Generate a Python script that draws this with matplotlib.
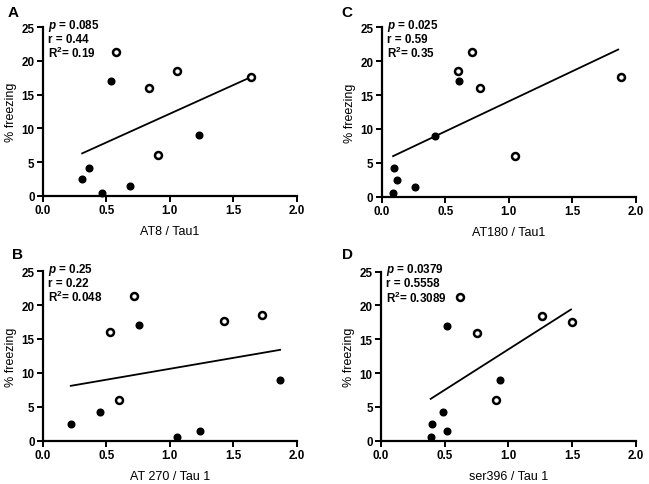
import matplotlib
matplotlib.use('Agg')
import matplotlib.pyplot as plt

plt.rcParams['font.family'] = ['Liberation Sans', 'DejaVu Sans']
plt.rcParams['mathtext.fontset'] = 'custom'
plt.rcParams['mathtext.rm'] = 'Liberation Sans:bold'
plt.rcParams['mathtext.it'] = 'Liberation Sans:italic:bold'
plt.rcParams['mathtext.bf'] = 'Liberation Sans:bold'

# panel A: AT8 / Tau1
a_filled_x = [0.31, 0.36, 0.47, 0.54, 0.69, 1.23]
a_filled_y = [2.5, 4.2, 0.5, 17.0, 1.5, 9.0]
a_open_x = [0.58, 0.84, 1.06, 0.91, 1.64]
a_open_y = [21.3, 16.0, 18.5, 6.0, 17.6]
a_fit_x = [0.31, 1.64]
a_fit_y = [6.3, 17.6]

# panel C: AT180 / Tau1
c_filled_x = [0.10, 0.12, 0.09, 0.26, 0.42, 0.61]
c_filled_y = [4.2, 2.5, 0.5, 1.5, 9.0, 17.0]
c_open_x = [0.71, 0.60, 0.77, 1.05, 1.88]
c_open_y = [21.3, 18.5, 16.0, 6.0, 17.6]
c_fit_x = [0.09, 1.86]
c_fit_y = [6.0, 21.7]

# panel B: AT 270 / Tau 1
b_filled_x = [0.22, 0.45, 0.76, 1.06, 1.24, 1.87]
b_filled_y = [2.5, 4.2, 17.0, 0.5, 1.5, 9.0]
b_open_x = [0.72, 0.53, 0.60, 1.43, 1.73]
b_open_y = [21.3, 16.0, 6.0, 17.6, 18.5]
b_fit_x = [0.22, 1.87]
b_fit_y = [8.1, 13.4]

# panel D: ser396 / Tau 1
d_filled_x = [0.39, 0.40, 0.49, 0.52, 0.52, 0.93]
d_filled_y = [0.5, 2.5, 4.2, 17.0, 1.5, 9.0]
d_open_x = [0.62, 0.75, 0.90, 1.26, 1.50]
d_open_y = [21.3, 16.0, 6.0, 18.5, 17.6]
d_fit_x = [0.39, 1.49]
d_fit_y = [6.2, 19.4]

# letter, x label, stats text, data..., axes rect, letter position (figure px)
panels = [
    ('A', 'AT8 / Tau1', ['$p$ = 0.085', 'r = 0.44', 'R$^2$= 0.19'],
     a_filled_x, a_filled_y, a_open_x, a_open_y, a_fit_x, a_fit_y,
     [0.066, 0.594, 0.391, 0.348], (8, 13)),
    ('C', 'AT180 / Tau1', ['$p$ = 0.025', 'r = 0.59', 'R$^2$= 0.35'],
     c_filled_x, c_filled_y, c_open_x, c_open_y, c_fit_x, c_fit_y,
     [0.588, 0.592, 0.392, 0.350], (341, 13)),
    ('B', 'AT 270 / Tau 1', ['$p$ = 0.25', 'r = 0.22', 'R$^2$= 0.048'],
     b_filled_x, b_filled_y, b_open_x, b_open_y, b_fit_x, b_fit_y,
     [0.066, 0.089, 0.391, 0.350], (12, 255)),
    ('D', 'ser396 / Tau 1', ['$p$ = 0.0379', 'r = 0.5558', 'R$^2$= 0.3089'],
     d_filled_x, d_filled_y, d_open_x, d_open_y, d_fit_x, d_fit_y,
     [0.587, 0.089, 0.393, 0.349], (342, 255)),
]

W, H = 649, 485
fig = plt.figure(figsize=(W / 100, H / 100), dpi=100)

for letter, xlabel, stats, fx, fy, ox, oy, lx, ly, rect, lpos in panels:
    ax = fig.add_axes(rect)
    ax.plot(lx, ly, color='black', linewidth=1.3, zorder=2)
    ax.plot(fx, fy, 'o', color='black', markersize=4.8, zorder=3, clip_on=False)
    ax.plot(ox, oy, 'o', markerfacecolor='white', markeredgecolor='black',
            markeredgewidth=1.8, markersize=5.0, zorder=3, clip_on=False)

    ax.set_xlim(0, 2.0)
    ax.set_ylim(0, 25)
    ax.set_xticks([0.0, 0.5, 1.0, 1.5, 2.0])
    ax.set_xticklabels(['0.0', '0.5', '1.0', '1.5', '2.0'])
    ax.set_yticks([0, 5, 10, 15, 20, 25])
    for side in ['top', 'right']:
        ax.spines[side].set_visible(False)
    for side in ['left', 'bottom']:
        ax.spines[side].set_linewidth(1.6)
    ax.tick_params(width=1.4, length=4, labelsize=8.4, pad=2)
    for lab in ax.get_xticklabels() + ax.get_yticklabels():
        lab.set_fontweight('bold')

    ax.set_xlabel(xlabel, fontsize=9, labelpad=6)
    ax.set_ylabel('% freezing', fontsize=9, labelpad=3)

    for i, s in enumerate(stats):
        ax.text(0.02, 1.015 - i * 0.083, s, transform=ax.transAxes, fontsize=8.4,
                fontweight='bold', va='center', ha='left')

    fig.text(lpos[0] / W, 1 - lpos[1] / H, letter, fontsize=11,
             fontweight='bold', va='center', ha='left')

fig.savefig('out.png', dpi=100)
